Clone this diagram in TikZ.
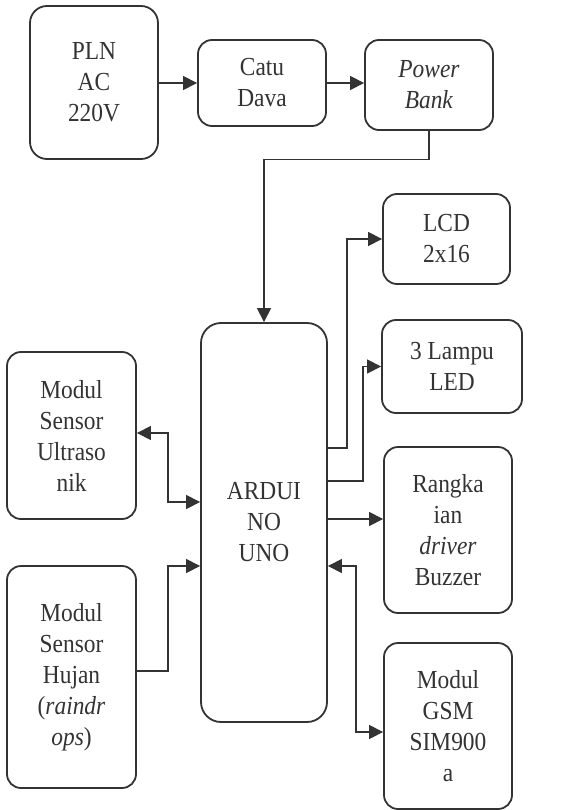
\documentclass[tikz,border=0pt]{standalone}
\usepackage{fontspec}
\setmainfont{Liberation Serif}[FakeStretch=0.9]
\usepackage{tikz}
\usetikzlibrary{arrows.meta, positioning}
\definecolor{linegray}{HTML}{333333}

\begin{document}
\begin{tikzpicture}[
    x=1pt, y=-1pt,
    >={Triangle[length=14pt, width=14pt]},
    every node/.style={font=\fontsize{26}{31}\selectfont, text=linegray},
    block/.style={rectangle, rounded corners=14pt, draw=linegray, line width=1.8pt,
                  minimum width=128pt, minimum height=88pt, align=center, inner sep=0pt},
    tallblock/.style={block, minimum height=166pt},
    arrow/.style={->, draw=linegray, line width=1.2pt},
    dblarrow/.style={<->, draw=linegray, line width=1.2pt}
]
\useasboundingbox (0,0) rectangle (585,810);

% Catu daya
\node[block, rounded corners=17pt, minimum height=153pt] (pln) at (94,82.5) {PLN\\AC\\220V};
\node[block, minimum height=86pt] (catu) at (262,83) {Catu\\Dava};
\node[block, minimum height=90pt] (bank) at (429,85) {\textit{Power}\\\textit{Bank}};

% Mikrokontroler
\node[block, rounded corners=20pt, minimum width=126pt, minimum height=399pt] (arduino) at (264,522.5) {ARDUI\\NO\\UNO};

% Input
\node[tallblock, minimum width=129pt, minimum height=167pt] (ultra) at (71.5,435.5) {Modul\\Sensor\\Ultraso\\nik};
\node[tallblock, minimum width=129pt, minimum height=222pt] (hujan) at (71.5,677) {Modul\\Sensor\\Hujan\\(\textit{raindr}\\\textit{ops})};

% Output
\node[block, minimum width=127pt, minimum height=90pt] (lcd) at (446.5,239) {LCD\\2x16};
\node[block, minimum width=140pt, minimum height=93pt] (led) at (452,366.5) {3 Lampu\\LED};
\node[tallblock] (buzzer) at (448,530) {Rangka\\ian\\\textit{driver}\\Buzzer};
\node[tallblock] (gsm) at (448,726) {Modul\\GSM\\SIM900\\a};

% Jalur daya
\draw[arrow] (pln.east |- catu.west) -- (catu.west);
\draw[arrow] (catu.east) -- (catu.east -| bank.west);
\draw[arrow] (bank.south) -- ++(0,29) -| (arduino.north);

% Jalur output
\draw[arrow] (arduino.east |- 0,448) -- (347,448) |- (lcd.west);
\draw[arrow] (arduino.east |- 0,481) -- (363,481) |- (led.west);
\draw[arrow] (arduino.east |- 0,519) -- (buzzer.west |- 0,519);
\draw[dblarrow] (arduino.east |- 0,566) -- (356,566) |- (gsm.west |- 0,732);

% Jalur input
\draw[dblarrow] (ultra.east |- 0,433) -- (168,433) |- (arduino.west |- 0,502);
\draw[arrow] (hujan.east |- 0,671) -- (168,671) |- (arduino.west |- 0,566);

\end{tikzpicture}
\end{document}
